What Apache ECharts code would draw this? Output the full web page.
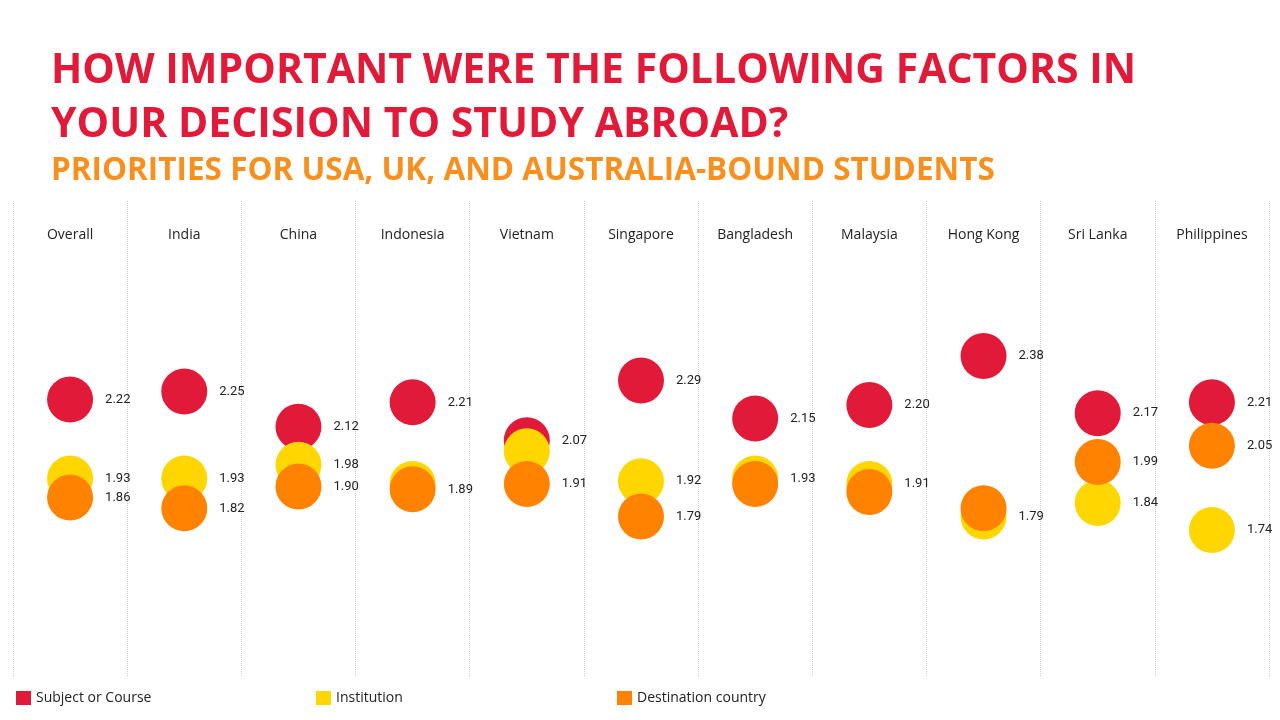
<!DOCTYPE html>
<html>
<head>
<meta charset="utf-8">
<title>Study abroad factors</title>
<script src="https://cdn.jsdelivr.net/npm/echarts@6/dist/echarts.min.js"></script>
<style>
	html,body{margin:0;padding:0;background:#fff;}
	#main{width:1280px;height:720px;}
</style>
</head>
<body>
<div id="main"></div>
<script>
// data
var categories = ['Overall','India','China','Indonesia','Vietnam','Singapore','Bangladesh','Malaysia','Hong Kong','Sri Lanka','Philippines'];
var seriesNames = ['Subject or Course','Institution','Destination country'];
var subjectValues = [2.22, 2.25, 2.12, 2.21, 2.07, 2.29, 2.15, 2.20, 2.38, 2.17, 2.21];
var institutionValues = [1.93, 1.93, 1.98, 1.91, 2.03, 1.92, 1.93, 1.91, 1.79, 1.84, 1.74];
var destinationValues = [1.86, 1.82, 1.90, 1.89, 1.91, 1.79, 1.91, 1.88, 1.82, 1.99, 2.05];
// labels that are not printed in the original (covered circles): [series, category]
var hiddenLabels = [[1,3],[1,4],[2,6],[2,7],[2,8]];

;(function(){
	//colours
	var Gvar = {
		red : '#E11A3A',
		yellow : '#FFD600',
		orange : '#FF8300',
		subOrange : '#F7901E',
		text : '#222222',
		font : '"Open Sans", "Noto Sans", sans-serif',
		numFont : '"Liberation Sans Narrow", "Roboto", sans-serif'
	};

	//build scatter data, switch off the covered labels
	var util = {
		makeData : function(values, sIdx){
			var out = [];
			for(var i=0;i<values.length;i++){
				var item = {value : values[i]};
				for(var k=0;k<hiddenLabels.length;k++){
					if(hiddenLabels[k][0] == sIdx && hiddenLabels[k][1] == i){
						item.label = {show : false};
					}
				}
				out.push(item);
			}
			return out;
		},
		series : function(name, values, sIdx, color){
			return {
				name : name,
				type : 'scatter',
				symbol : 'circle',
				symbolSize : 46,
				itemStyle : {color : color, opacity : 1},
				label : {
					show : true,
					position : 'right',
					distance : 12,
					color : Gvar.text,
					fontSize : 13,
					fontFamily : Gvar.numFont,
					formatter : function(p){ return p.value.toFixed(2); }
				},
				emphasis : {disabled : true},
				data : util.makeData(values, sIdx)
			};
		},
		legend : function(name, left){
			return {
				data : [name],
				left : left,
				top : 686,
				icon : 'rect',
				itemWidth : 15,
				itemHeight : 14,
				itemGap : 0,
				selectedMode : false,
				textStyle : {color : Gvar.text, fontSize : 14, fontFamily : Gvar.font}
			};
		}
	};

	var myChart = echarts.init(document.getElementById('main'));

	var option = {
		backgroundColor : '#ffffff',
		animation : false,
		title : [
			{
				text : 'HOW IMPORTANT WERE THE FOLLOWING FACTORS IN\nYOUR DECISION TO STUDY ABROAD?',
				left : 46,
				top : 39,
				textStyle : {color : Gvar.red, fontSize : 41, fontWeight : 'bold', fontFamily : Gvar.font, lineHeight : 54}
			},
			{
				text : 'PRIORITIES FOR USA, UK, AND AUSTRALIA-BOUND STUDENTS',
				left : 46,
				top : 146,
				textStyle : {color : Gvar.subOrange, fontSize : 31.5, fontWeight : 'bold', fontFamily : Gvar.font, lineHeight : 40}
			}
		],
		legend : [
			util.legend(seriesNames[0], 11),
			util.legend(seriesNames[1], 311),
			util.legend(seriesNames[2], 612)
		],
		grid : {left : 13, right : 11, top : 201, bottom : 43},
		xAxis : {
			type : 'category',
			position : 'top',
			data : categories,
			boundaryGap : true,
			axisLine : {show : false},
			axisTick : {show : false},
			axisLabel : {inside : true, margin : 27, color : Gvar.text, fontSize : 14, fontFamily : Gvar.font, interval : 0},
			splitLine : {show : true, interval : 0, lineStyle : {type : 'dotted', color : '#cccccc', width : 1}}
		},
		yAxis : {
			type : 'value',
			min : 1.2,
			max : 2.95,
			show : false,
			splitLine : {show : false}
		},
		series : [
			util.series(seriesNames[0], subjectValues, 0, Gvar.red),
			util.series(seriesNames[1], institutionValues, 1, Gvar.yellow),
			util.series(seriesNames[2], destinationValues, 2, Gvar.orange)
		]
	};

	myChart.setOption(option);
})();
</script>
</body>
</html>
